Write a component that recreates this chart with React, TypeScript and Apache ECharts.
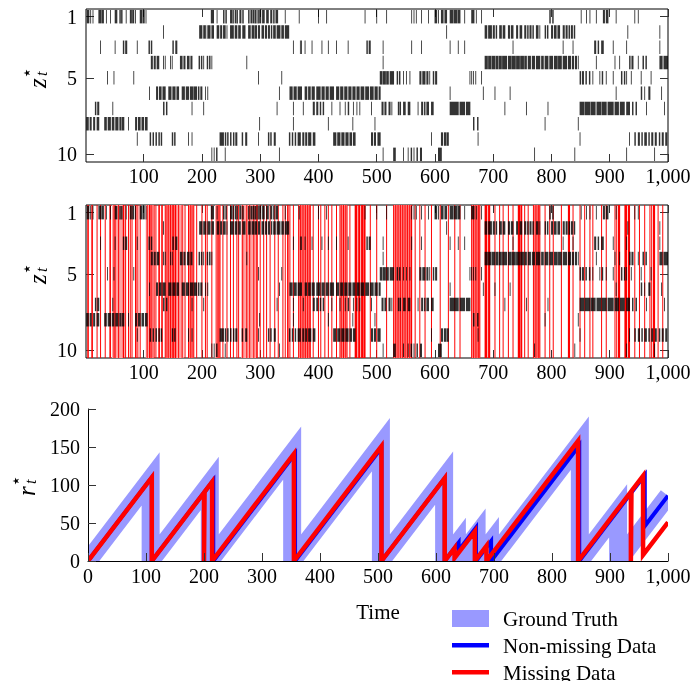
import React, { useEffect, useRef } from 'react';
import * as echarts from 'echarts';

const FONT = '"Liberation Serif", "Times New Roman", serif';

// time ticks / labels
const timeTicks = [100, 200, 300, 400, 500, 600, 700, 800, 900, 1000];
const stateTicks = [1, 5, 10];

// occupied time intervals [t0, t1] per state z*_t (rows 1..10)
const state1 = [[3,6],[9,9],[13,13],[23,26],[28,31],[36,36],[43,43],[51,54],[59,60],[62,63],[70,70],[77,79],[81,83],[86,86],[94,97],[99,101],[104,104],[216,220],[226,226],[237,238],[241,242],[249,251],[253,254],[257,258],[260,261],[265,267],[270,271],[280,281],[284,286],[288,289],[291,293],[296,297],[299,301],[304,307],[311,314],[318,320],[323,324],[327,330],[343,343],[367,367],[400,400],[414,414],[480,480],[500,500],[517,517],[560,560],[564,564],[568,568],[577,577],[589,589],[600,603],[606,606],[611,614],[617,620],[626,631],[633,638],[640,643],[651,651],[663,667],[671,671],[680,680],[797,798],[802,803],[851,851],[860,860],[866,866],[877,877],[889,891],[894,897],[911,911],[943,943],[949,949]];
const state2 = [[134,134],[196,200],[203,206],[209,209],[211,214],[217,220],[226,229],[232,234],[237,240],[243,243],[249,254],[257,260],[263,266],[270,274],[280,283],[286,289],[291,294],[297,299],[303,306],[309,311],[314,316],[319,320],[323,326],[329,334],[337,340],[343,349],[620,620],[686,689],[692,697],[700,702],[705,706],[711,714],[717,720],[726,728],[731,734],[740,742],[746,749],[754,756],[759,760],[763,765],[768,769],[774,777],[780,780],[789,790],[793,794],[800,802],[805,808],[811,814],[820,822],[825,827],[830,831],[834,836],[839,840],[931,931],[986,986]];
const state3 = [[26,26],[51,51],[65,66],[69,71],[89,89],[109,110],[113,114],[150,151],[155,157],[357,357],[369,369],[371,371],[377,377],[389,389],[406,406],[417,417],[431,431],[451,451],[483,484],[487,489],[511,511],[560,560],[577,577],[626,626],[640,640],[651,651],[734,734],[820,820],[837,837],[874,876],[880,881],[886,889],[906,906],[929,929],[986,986]];
const state4 = [[113,115],[118,120],[123,126],[134,134],[137,137],[146,146],[149,149],[163,166],[169,171],[175,178],[181,183],[195,196],[199,200],[203,203],[209,210],[213,214],[217,217],[277,277],[511,511],[686,690],[692,696],[698,703],[705,708],[710,714],[716,723],[726,731],[733,738],[740,745],[747,752],[754,757],[760,764],[767,771],[774,780],[783,786],[789,794],[797,802],[805,810],[812,817],[820,826],[829,833],[836,838],[841,843],[846,846],[877,877],[909,909],[917,917],[934,935],[938,940],[949,949],[957,958],[962,963],[986,990],[993,1000]];
const state5 = [[38,38],[49,49],[83,83],[297,297],[337,337],[506,509],[511,515],[517,520],[523,529],[535,536],[539,540],[546,546],[551,551],[557,557],[574,576],[579,583],[586,588],[591,591],[597,598],[601,603],[660,660],[663,663],[666,666],[670,670],[680,680],[849,850],[853,855],[859,860],[865,866],[871,871],[883,883],[887,888],[894,894],[906,906],[920,921],[925,926],[929,929],[937,937],[954,954],[971,971]];
const state6 = [[110,110],[122,124],[127,130],[133,137],[143,147],[150,154],[157,160],[166,170],[173,177],[180,185],[187,191],[194,195],[198,200],[206,206],[210,210],[333,333],[351,355],[358,362],[365,371],[377,380],[383,386],[389,393],[397,403],[406,410],[413,417],[420,426],[431,435],[438,442],[445,449],[452,456],[459,463],[466,470],[473,478],[481,486],[489,494],[497,501],[504,506],[626,626],[683,683],[703,703],[729,729],[911,911],[954,955],[960,960],[967,969],[989,989]];
const state7 = [[17,18],[21,23],[47,47],[134,135],[139,140],[183,183],[203,203],[329,329],[357,357],[374,374],[391,393],[397,399],[403,404],[408,409],[423,423],[437,437],[446,446],[451,452],[460,460],[466,466],[471,471],[491,491],[509,511],[514,516],[521,523],[526,526],[537,538],[540,541],[546,549],[554,557],[571,571],[577,579],[582,583],[586,589],[594,597],[626,640],[643,651],[654,660],[720,720],[757,757],[794,794],[849,856],[858,866],[868,875],[878,885],[887,894],[897,906],[909,915],[918,925],[929,934],[939,940],[945,946],[963,963],[994,994]];
const state8 = [[2,5],[8,10],[14,16],[20,23],[33,36],[39,43],[46,49],[52,56],[59,61],[63,66],[74,74],[86,88],[91,94],[97,100],[103,106],[299,299],[357,357],[417,417],[459,459],[497,497],[666,667],[673,674],[789,789],[846,846]];
const state9 = [[89,89],[111,112],[116,117],[121,122],[126,127],[130,131],[149,150],[153,154],[177,177],[183,183],[231,237],[240,241],[244,245],[249,250],[254,255],[258,260],[269,270],[275,277],[297,297],[314,315],[318,319],[324,326],[350,351],[355,356],[360,361],[365,369],[373,375],[378,380],[383,387],[391,394],[426,430],[433,437],[440,444],[447,451],[454,457],[460,463],[491,493],[496,498],[502,506],[594,594],[611,613],[616,619],[621,623],[674,674],[849,849],[934,934],[943,944],[949,951],[955,956],[960,963],[967,968],[972,974],[978,980],[985,986],[990,992],[996,998]];
const state10 = [[217,217],[221,221],[225,226],[240,240],[333,333],[511,511],[529,532],[546,546],[554,554],[559,560],[564,564],[569,570],[575,577],[606,611],[771,771],[840,840],[929,929],[977,977]];

// missing-data time intervals (isolated / short runs)
const missingTimes = [[4,5],[11,12],[20,20],[26,26],[34,34],[42,43],[49,49],[51,51],[57,57],[65,66],[69,69],[74,74],[77,77],[80,80],[86,87],[90,90],[94,94],[106,106],[110,111],[114,114],[118,118],[121,121],[126,127],[131,132],[137,137],[140,140],[143,143],[146,146],[149,149],[151,151],[154,155],[160,160],[166,166],[171,171],[177,177],[180,180],[183,183],[186,186],[191,191],[200,200],[206,206],[209,209],[217,217],[226,226],[229,229],[231,231],[236,236],[243,243],[249,249],[254,254],[260,260],[263,263],[270,270],[277,277],[282,282],[289,289],[294,295],[300,300],[306,306],[311,311],[317,317],[325,325],[331,331],[339,339],[343,343],[347,348],[351,351],[357,357],[366,366],[369,369],[372,372],[375,375],[378,378],[381,381],[384,384],[386,386],[391,391],[400,400],[404,404],[411,411],[417,417],[423,423],[431,431],[437,437],[440,440],[443,443],[446,446],[449,449],[454,454],[463,466],[469,471],[474,476],[478,480],[489,489],[500,500],[517,517],[529,529],[532,532],[535,535],[538,538],[541,541],[544,544],[547,547],[550,550],[553,553],[556,556],[559,560],[566,566],[574,574],[583,583],[594,594],[609,609],[623,623],[634,634],[643,643],[663,663],[666,666],[669,669],[672,672],[675,675],[677,677],[686,689],[692,694],[703,703],[711,711],[717,717],[726,726],[734,734],[743,746],[748,749],[754,754],[760,760],[769,769],[772,772],[775,775],[778,778],[780,780],[789,789],[797,797],[803,803],[817,817],[829,831],[837,837],[849,849],[857,857],[866,866],[871,871],[886,886],[894,894],[909,909],[912,912],[915,917],[926,929],[932,934],[943,943],[951,951],[960,960],[969,969],[972,972],[975,977],[983,983],[991,991]];
// stretches where every other step is missing (appear as pale red bands)
const missingSpans = [[46,66],[104,117],[137,168],[177,186],[223,231],[268,293],[366,386],[437,449],[529,560],[663,677],[769,780]];

// run length r*_t
const groundTruthRun = [[0,0],[108,108],[108,0],[210,102],[210,0],[352,142],[352,0],[505,153],[505,0],[614,109],[614,0],[636,22],[636,0],[670,34],[670,0],[693,23],[693,0],[848,155],[848,0],[914,66],[914,0],[1000,86]];
const nonMissingRun = [[0,0],[110,110],[110,0],[216,106],[216,0],[357,141],[357,0],[506,149],[506,0],[615,109],[615,0],[639,24],[639,14],[669,44],[669,0],[695,26],[695,0],[847,152],[847,0],[960,113],[960,46],[1000,86]];
const missingRun = [[0,0],[110,110],[110,0],[200,90],[200,0],[201,91],[214,104],[214,0],[355,141],[355,0],[506,151],[506,0],[615,109],[615,0],[632,17],[632,4],[667,39],[667,0],[687,20],[687,0],[845,158],[845,0],[936,91],[936,0],[937,92],[957,112],[957,8],[1000,51]];

const stateRows = [state1, state2, state3, state4, state5, state6, state7, state8, state9, state10];
const stateData = stateRows.flatMap((r, i) => r.map(([a, b]) => [a, b, i + 1]));

const fmt = (v: number) => v.toLocaleString('en-US');

const rasterItem = (params: any, api: any) => {
  const p0 = api.coord([api.value(0) - 0.5, api.value(2) - 0.44]);
  const p1 = api.coord([api.value(1) + 0.5, api.value(2) + 0.44]);
  const x = Math.min(p0[0], p1[0]) - 0.15;
  const y = Math.min(p0[1], p1[1]);
  return {
    type: 'rect',
    shape: { x, y, width: Math.abs(p1[0] - p0[0]) + 0.3, height: Math.abs(p1[1] - p0[1]) },
    style: { fill: '#000', opacity: 0.8 },
  };
};
const bandItem = (fill: string, extra: number) => (params: any, api: any) => {
  const p0 = api.coord([api.value(0) - 0.5, 0.5]);
  const p1 = api.coord([api.value(1) + 0.5, 10.5]);
  const x = Math.min(p0[0], p1[0]) - extra / 2;
  const y = Math.min(p0[1], p1[1]);
  return {
    type: 'rect',
    shape: { x, y, width: Math.abs(p1[0] - p0[0]) + extra, height: Math.abs(p1[1] - p0[1]) },
    style: { fill },
  };
};
const runLine = (pts: number[][], width: number, color: string) => (params: any, api: any) => {
  if (params.dataIndex !== 0) return null;
  const points = pts.map((p) => api.coord(p));
  return {
    type: 'polyline',
    shape: { points },
    style: { stroke: color, lineWidth: width, fill: null, lineJoin: 'miter', miterLimit: 10, lineCap: 'butt' },
  };
};

const labelStyle = { fontFamily: FONT, fontSize: 20, color: '#000' };
const tickStyle = { color: '#333', width: 1 };

const rasterX = (g: number, top: boolean) => ({
  type: 'value', gridIndex: g, min: 1, max: 1000, position: top ? 'top' : 'bottom',
  axisLine: { show: false }, splitLine: { show: false },
  axisTick: { show: true, inside: true, length: 8, customValues: timeTicks, lineStyle: tickStyle },
  axisLabel: { show: !top, ...labelStyle, margin: 4, customValues: timeTicks, formatter: fmt },
});
const rasterY = (g: number, right: boolean) => ({
  type: 'value', gridIndex: g, min: 0.5, max: 10.5, inverse: true, position: right ? 'right' : 'left',
  axisLine: { show: false }, splitLine: { show: false },
  axisTick: { show: true, inside: true, length: 8, customValues: stateTicks, lineStyle: tickStyle },
  axisLabel: { show: !right, ...labelStyle, margin: 9, customValues: stateTicks },
});

const txt = (text: string, x: number, y: number, family: string, size: number, italic: boolean) => ({
  type: 'text', x, y,
  style: { text, fontFamily: family, fontStyle: italic ? 'italic' : 'normal', fontSize: size, fill: '#000', textAlign: 'left', textVerticalAlign: 'middle', align: 'left', verticalAlign: 'middle' },
});
const yTitle = (x: number, y: number, letter: string) => ({
  type: 'group', x, y, rotation: Math.PI / 2, silent: true,
  children: [
    txt(letter, -7, 0, FONT, 25, true),
    txt('★', 4, -10, '"DejaVu Sans"', 9, false),
    txt('t', 5, 4, FONT, 16, true),
  ],
});

const legendText = (y: number, text: string) => ({
  type: 'text', x: 503, y, silent: true,
  style: { text, fontFamily: FONT, fontSize: 21, fill: '#000', textAlign: 'left', textVerticalAlign: 'middle', align: 'left', verticalAlign: 'middle' },
});

const option: any = {
  animation: false,
  grid: [
    { left: 86, top: 9, width: 582, height: 153, show: true, borderColor: '#000', borderWidth: 1, backgroundColor: 'transparent' },
    { left: 86, top: 205, width: 582, height: 153, show: true, borderColor: '#000', borderWidth: 1, backgroundColor: 'transparent' },
    { left: 88, top: 409, width: 580, height: 152 },
  ],
  xAxis: [
    rasterX(0, false), rasterX(0, true), rasterX(1, false), rasterX(1, true),
    {
      type: 'value', gridIndex: 2, min: 0, max: 1000, interval: 100, z: 10,
      axisLine: { show: true, lineStyle: { color: '#000', width: 1 } }, splitLine: { show: false },
      axisTick: { show: true, inside: true, length: 8, lineStyle: tickStyle },
      axisLabel: { ...labelStyle, margin: 5, formatter: fmt },
    },
  ],
  yAxis: [
    rasterY(0, false), rasterY(0, true), rasterY(1, false), rasterY(1, true),
    {
      type: 'value', gridIndex: 2, min: 0, max: 200, interval: 50, z: 10,
      axisLine: { show: true, lineStyle: { color: '#000', width: 1 } }, splitLine: { show: false },
      axisTick: { show: true, inside: true, length: 8, lineStyle: tickStyle },
      axisLabel: { ...labelStyle, margin: 8 },
    },
  ],
  series: [
    { type: 'custom', xAxisIndex: 0, yAxisIndex: 0, renderItem: rasterItem, data: stateData, encode: { x: [0, 1], y: 2 }, clip: true, silent: true, z: 3 },
    { type: 'custom', xAxisIndex: 2, yAxisIndex: 2, renderItem: bandItem('#ffa3a3', 0), data: missingSpans, encode: { x: [0, 1] }, clip: true, silent: true, z: 1 },
    { type: 'custom', xAxisIndex: 2, yAxisIndex: 2, renderItem: bandItem('#ff0000', 0.4), data: missingTimes, encode: { x: [0, 1] }, clip: true, silent: true, z: 2 },
    { type: 'custom', xAxisIndex: 2, yAxisIndex: 2, renderItem: rasterItem, data: stateData, encode: { x: [0, 1], y: 2 }, clip: true, silent: true, z: 3 },
    { name: 'Ground Truth', type: 'custom', xAxisIndex: 4, yAxisIndex: 4, renderItem: runLine(groundTruthRun, 18, '#9999ff'), data: groundTruthRun, encode: { x: 0, y: 1 }, clip: true, silent: true, z: 1 },
    { name: 'Non-missing Data', type: 'custom', xAxisIndex: 4, yAxisIndex: 4, renderItem: runLine(nonMissingRun, 4, '#0000ff'), data: nonMissingRun, encode: { x: 0, y: 1 }, clip: true, silent: true, z: 2 },
    { name: 'Missing Data', type: 'custom', xAxisIndex: 4, yAxisIndex: 4, renderItem: runLine(missingRun, 4.5, '#ff0000'), data: missingRun, encode: { x: 0, y: 1 }, clip: true, silent: true, z: 3 },
  ],
  graphic: [
    yTitle(37, 81, 'z'),
    yTitle(37, 277, 'z'),
    yTitle(26, 489, 'r'),
    { type: 'text', x: 378, y: 612, silent: true, style: { text: 'Time', fontFamily: FONT, fontSize: 21, fill: '#000', textAlign: 'center', textVerticalAlign: 'middle', align: 'center', verticalAlign: 'middle' } },
    { type: 'rect', silent: true, shape: { x: 452, y: 610, width: 37, height: 17 }, style: { fill: '#9999ff' } },
    { type: 'rect', silent: true, shape: { x: 452, y: 643, width: 37, height: 4.5 }, style: { fill: '#0000ff' } },
    { type: 'rect', silent: true, shape: { x: 452, y: 670, width: 37, height: 4.5 }, style: { fill: '#ff0000' } },
    legendText(619, 'Ground Truth'),
    legendText(645.5, 'Non-missing Data'),
    legendText(672.5, 'Missing Data'),
  ],
};

export default function App() {
  const ref = useRef<HTMLDivElement>(null);
  useEffect(() => {
    const chart = echarts.init(ref.current!, null, { renderer: 'svg' });
    chart.setOption(option);
    return () => chart.dispose();
  }, []);
  return <div ref={ref} style={{ position: 'fixed', left: 0, top: 0, width: 695, height: 681 }} />;
}
